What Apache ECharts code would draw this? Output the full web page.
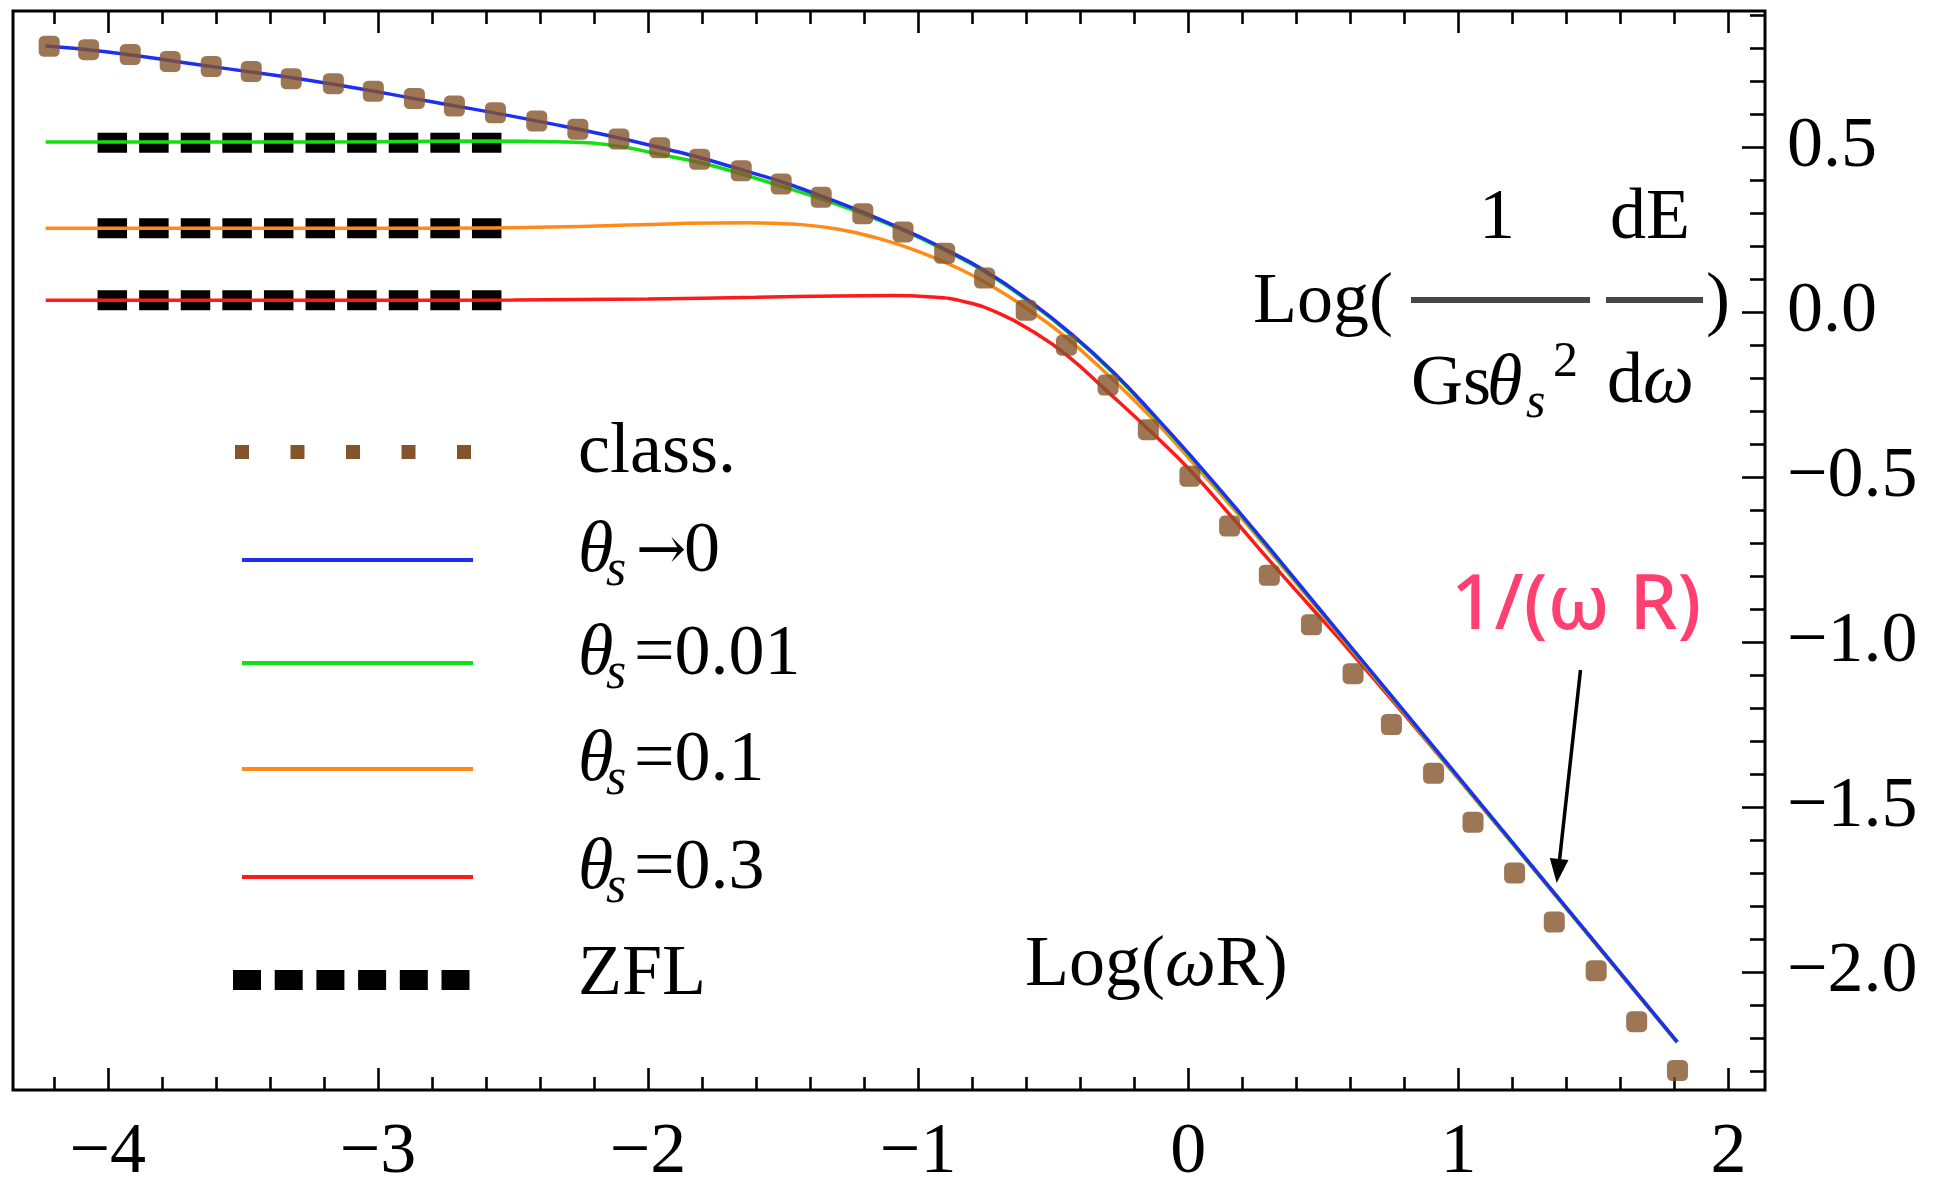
<!DOCTYPE html>
<html>
<head>
<meta charset="utf-8">
<script src="https://cdn.jsdelivr.net/npm/echarts/dist/echarts.min.js"></script>
<style>
html,body{margin:0;padding:0;background:#fff;}
#chart{width:1951px;height:1189px;}
</style>
</head>
<body>
<div id="chart"></div>
<script>
// ---------------- data ----------------
const classX = [-4.217,-4.071,-3.917,-3.769,-3.617,-3.469,-3.321,-3.165,-3.017,-2.865,-2.717,-2.565,-2.412,-2.260,-2.108,-1.957,-1.809,-1.655,-1.507,-1.359,-1.205,-1.056,-0.902,-0.754,-0.600,-0.451,-0.297,-0.148,0.006,0.153,0.300,0.456,0.610,0.752,0.908,1.054,1.208,1.355,1.510,1.660,1.811];
const classY = [0.805,0.795,0.780,0.759,0.744,0.729,0.707,0.692,0.669,0.647,0.624,0.604,0.579,0.554,0.524,0.498,0.463,0.428,0.388,0.348,0.298,0.243,0.178,0.103,0.006,-0.100,-0.221,-0.356,-0.497,-0.648,-0.797,-0.947,-1.095,-1.249,-1.397,-1.545,-1.699,-1.847,-1.995,-2.149,-2.297];

const blueX = [-4.23,-4.0,-3.6,-3.2,-2.8,-2.4,-2.0,-1.66,-1.36,-1.06,-0.90,-0.75,-0.59,-0.43,-0.28,-0.12,0.03,0.19,0.35,0.60,0.86,1.10,1.36,1.60,1.81];
const blueY = [0.806,0.788,0.742,0.695,0.637,0.577,0.507,0.433,0.352,0.252,0.190,0.124,0.035,-0.068,-0.180,-0.318,-0.455,-0.607,-0.764,-1.012,-1.269,-1.507,-1.764,-2.002,-2.210];

const greenX = [-4.23,-3.5,-3.0,-2.6,-2.3,-2.1,-1.96,-1.81,-1.66,-1.51,-1.36,-1.2,-1.06,-0.90,-0.75,-0.59,-0.43,-0.28,-0.12,0.03,0.19,0.35,0.60,0.86,1.10,1.36,1.60,1.81];
const greenY = [0.515,0.515,0.516,0.518,0.515,0.501,0.478,0.453,0.420,0.382,0.343,0.296,0.249,0.187,0.121,0.032,-0.071,-0.183,-0.321,-0.458,-0.610,-0.767,-1.014,-1.271,-1.509,-1.766,-2.003,-2.211];

const orangeX = [-4.23,-3.0,-2.6,-2.25,-1.9,-1.63,-1.45,-1.3,-1.15,-1.0,-0.85,-0.72,-0.60,-0.47,-0.30,-0.12,0.03,0.19,0.35,0.60,0.86,1.10,1.36,1.60,1.81];
const orangeY = [0.254,0.254,0.255,0.259,0.268,0.271,0.266,0.252,0.224,0.184,0.132,0.075,0.012,-0.065,-0.188,-0.333,-0.468,-0.617,-0.772,-1.017,-1.273,-1.510,-1.766,-2.003,-2.211];

const redX = [-4.23,-3.5,-3.0,-2.5,-2.0,-1.6,-1.3,-1.1,-0.95,-0.82,-0.70,-0.575,-0.45,-0.30,-0.14,0.006,0.166,0.314,0.45,0.60,0.86,1.10,1.36,1.60,1.81];
const redY = [0.036,0.036,0.036,0.037,0.040,0.045,0.049,0.050,0.046,0.030,-0.004,-0.059,-0.130,-0.240,-0.361,-0.478,-0.625,-0.765,-0.890,-1.028,-1.277,-1.511,-1.767,-2.004,-2.212];

const zflX = [-4.038, -2.537];
const zflLevels = [0.513, 0.254, 0.036];

const xMajor = [-4, -3, -2, -1, 0, 1, 2];
const yMajor = [-2.0, -1.5, -1.0, -0.5, 0.0, 0.5];
const xRange = [-4.351, 2.135];
const yRange = [-2.356, 0.912];

// minor tick positions (0.2 on x, 0.1 on y)
const xMinor = [];
for (let k = -21; k <= 10; k++) { if (k % 5 !== 0) xMinor.push(+(k * 0.2).toFixed(1)); }
const yMinor = [];
for (let k = -23; k <= 9; k++) { if (k % 5 !== 0) yMinor.push(+(k * 0.1).toFixed(1)); }

// ---------------- helpers ----------------
const SERIF = '"Liberation Serif", "Times New Roman", serif';
const zip = (xs, ys) => xs.map((x, i) => [x, ys[i]]);
const minus = s => s.replace('-', '\u2212');

function T(x, base, text, size, o) {
  o = o || {};
  const fam = o.family || SERIF;
  const k = o.mid || 0.3375;
  return {
    type: 'text', x: x, y: base - k * size, z: 100, silent: true,
    style: {
      text: text,
      font: (o.weight ? o.weight + ' ' : '') + (o.italic ? 'italic ' : '') + size + 'px ' + fam,
      fill: o.color || '#000',
      align: o.align || 'left', textAlign: o.align || 'left',
      verticalAlign: 'middle', textVerticalAlign: 'middle'
    }
  };
}

const BROWN = '#84542a';
const graphics = [];
// ----- legend -----
const LX1 = 242, LX2 = 473, TX = 578;
for (let i = 0; i < 5; i++) {
  graphics.push({type: 'rect', silent: true, z: 100, shape: {x: 235 + i * 55.5, y: 445, width: 14, height: 14}, style: {fill: BROWN}});
}
graphics.push(T(TX, 477, 'class.', 72));
const legLines = [
  {y: 560, color: '#1f2ff0', rest: null},
  {y: 663, color: '#12e012', rest: '=0.01'},
  {y: 769, color: '#ff8a1a', rest: '=0.1'},
  {y: 877, color: '#ff1a1a', rest: '=0.3'}
];
legLines.forEach(L => {
  graphics.push({type: 'line', silent: true, z: 100, shape: {x1: LX1, y1: L.y, x2: LX2, y2: L.y}, style: {stroke: L.color, lineWidth: 4}});
  const b = L.y + 16;
  graphics.push(T(TX, b, '\u03b8', 72, {italic: true}));
  graphics.push(T(TX + 28, b + 13, 's', 52, {italic: true}));
  if (L.rest) {
    graphics.push(T(TX + 56, b, L.rest, 72));
  } else {
    graphics.push(T(TX + 58, b - 2, '\u2192', 60, {family: '"DejaVu Serif", serif'}));
    graphics.push(T(TX + 106, b, '0', 72));
  }
});
for (let i = 0; i < 6; i++) {
  graphics.push({type: 'rect', silent: true, z: 100, shape: {x: 233 + i * 41.7, y: 970, width: 28, height: 20}, style: {fill: '#000'}});
}
graphics.push(T(TX, 999, 'ZFL', 72));

// ----- x axis title -----
graphics.push({
  type: 'text', x: 1025, y: 990 - 0.3375 * 72, z: 100, silent: true,
  style: {
    text: '{n|Log(}{i|\u03c9}{n|R)}', verticalAlign: 'middle', textVerticalAlign: 'middle',
    rich: {
      n: {font: '72px ' + SERIF, fill: '#000'},
      i: {font: 'italic 72px ' + SERIF, fill: '#000'}
    }
  }
});

// ----- y axis title (fraction) -----
graphics.push(T(1253, 327, 'Log(', 72));
graphics.push({type: 'rect', silent: true, z: 100, shape: {x: 1411, y: 297, width: 179, height: 6}, style: {fill: '#474747'}});
graphics.push({type: 'rect', silent: true, z: 100, shape: {x: 1606, y: 297, width: 97, height: 6}, style: {fill: '#474747'}});
graphics.push(T(1497, 243, '1', 72, {align: 'center'}));
graphics.push(T(1650, 243, 'dE', 72, {align: 'center'}));
graphics.push(T(1411, 409, 'Gs', 72));
graphics.push(T(1487, 409, '\u03b8', 72, {italic: true}));
graphics.push(T(1526, 421, 's', 50, {italic: true}));
graphics.push(T(1553, 380, '2', 50));
graphics.push(T(1607, 407, 'd', 72));
graphics.push(T(1643, 407, '\u03c9', 72, {italic: true}));
graphics.push(T(1706, 327, ')', 72));

// ----- annotation 1/(ωR) with arrow -----
graphics.push(T(1451, 637, '1/(\u03c9 R)', 76, {family: '"Noto Sans", "DejaVu Sans", sans-serif', color: '#ff3f70', mid: 0.388, weight: 500}));
graphics.push({type: 'line', silent: true, z: 100, shape: {x1: 1580.5, y1: 670, x2: 1559.3, y2: 862}, style: {stroke: '#000', lineWidth: 3.5}});
graphics.push({type: 'polygon', silent: true, z: 100, shape: {points: [[1556.7, 883], [1568.5, 860], [1549.8, 858]]}, style: {fill: '#000'}});

// ---------------- chart ----------------
const chart = echarts.init(document.getElementById('chart'), null, {renderer: 'canvas'});

const tickStyle = {color: '#000', width: 2.6};
const labelStyle = {fontSize: 72, fontFamily: SERIF, color: '#000'};

function xAx(pos, values, len, withLabels) {
  return {
    type: 'value', position: pos, min: xRange[0], max: xRange[1],
    axisLine: {show: false, onZero: false},
    axisTick: {show: true, inside: true, length: len, customValues: values, lineStyle: tickStyle},
    axisLabel: withLabels ? Object.assign({show: true, customValues: values, margin: 27,
      formatter: v => minus(String(v))}, labelStyle) : {show: false},
    splitLine: {show: false}, minorTick: {show: false}
  };
}
function yAx(values, len, withLabels) {
  return {
    type: 'value', position: 'right', min: yRange[0], max: yRange[1],
    axisLine: {show: false, onZero: false},
    axisTick: {show: true, inside: true, length: len, customValues: values, lineStyle: tickStyle},
    axisLabel: withLabels ? Object.assign({show: true, customValues: values, margin: 22, align: 'left',
      formatter: v => minus(Number(v).toFixed(1))}, labelStyle) : {show: false},
    splitLine: {show: false}, minorTick: {show: false}
  };
}

function lineSeries(name, xs, ys, color, z) {
  return {
    name: name, type: 'line', xAxisIndex: 0, yAxisIndex: 0,
    data: zip(xs, ys), showSymbol: false, smooth: 0.5,
    lineStyle: {color: color, width: 3.5}, z: z, silent: true
  };
}

const series = [];
zflLevels.forEach((lv, i) => {
  series.push({
    name: 'ZFL' + i, type: 'line', xAxisIndex: 0, yAxisIndex: 0,
    data: [[zflX[0], lv], [zflX[1], lv]], showSymbol: false,
    lineStyle: {color: '#000', width: 20, type: [29.5, 12.1], cap: 'butt'}, z: 1, silent: true
  });
});
series.push(lineSeries('\u03b8s=0.3', redX, redY, '#ff1a1a', 2));
series.push(lineSeries('\u03b8s=0.1', orangeX, orangeY, '#ff8a1a', 3));
series.push(lineSeries('\u03b8s=0.01', greenX, greenY, '#12e012', 4));
series.push(lineSeries('\u03b8s\u21920', blueX, blueY, '#1f2ff0', 5));
series.push({
  name: 'class.', type: 'scatter', xAxisIndex: 0, yAxisIndex: 0,
  data: zip(classX, classY), symbol: 'roundRect', symbolSize: 21,
  itemStyle: {color: BROWN}, z: 6, silent: true
});

chart.setOption({
  animation: false,
  backgroundColor: '#fff',
  grid: {left: 13, right: 186, top: 11, bottom: 94, show: true, borderColor: '#000', borderWidth: 3, backgroundColor: 'transparent'},
  xAxis: [
    xAx('bottom', xMajor, 22, true),
    xAx('bottom', xMinor, 13, false),
    xAx('top', xMajor, 22, false),
    xAx('top', xMinor, 13, false)
  ],
  yAxis: [
    yAx(yMajor, 23, true),
    yAx(yMinor, 15, false)
  ],
  series: series,
  graphic: graphics
});
</script>
</body>
</html>
